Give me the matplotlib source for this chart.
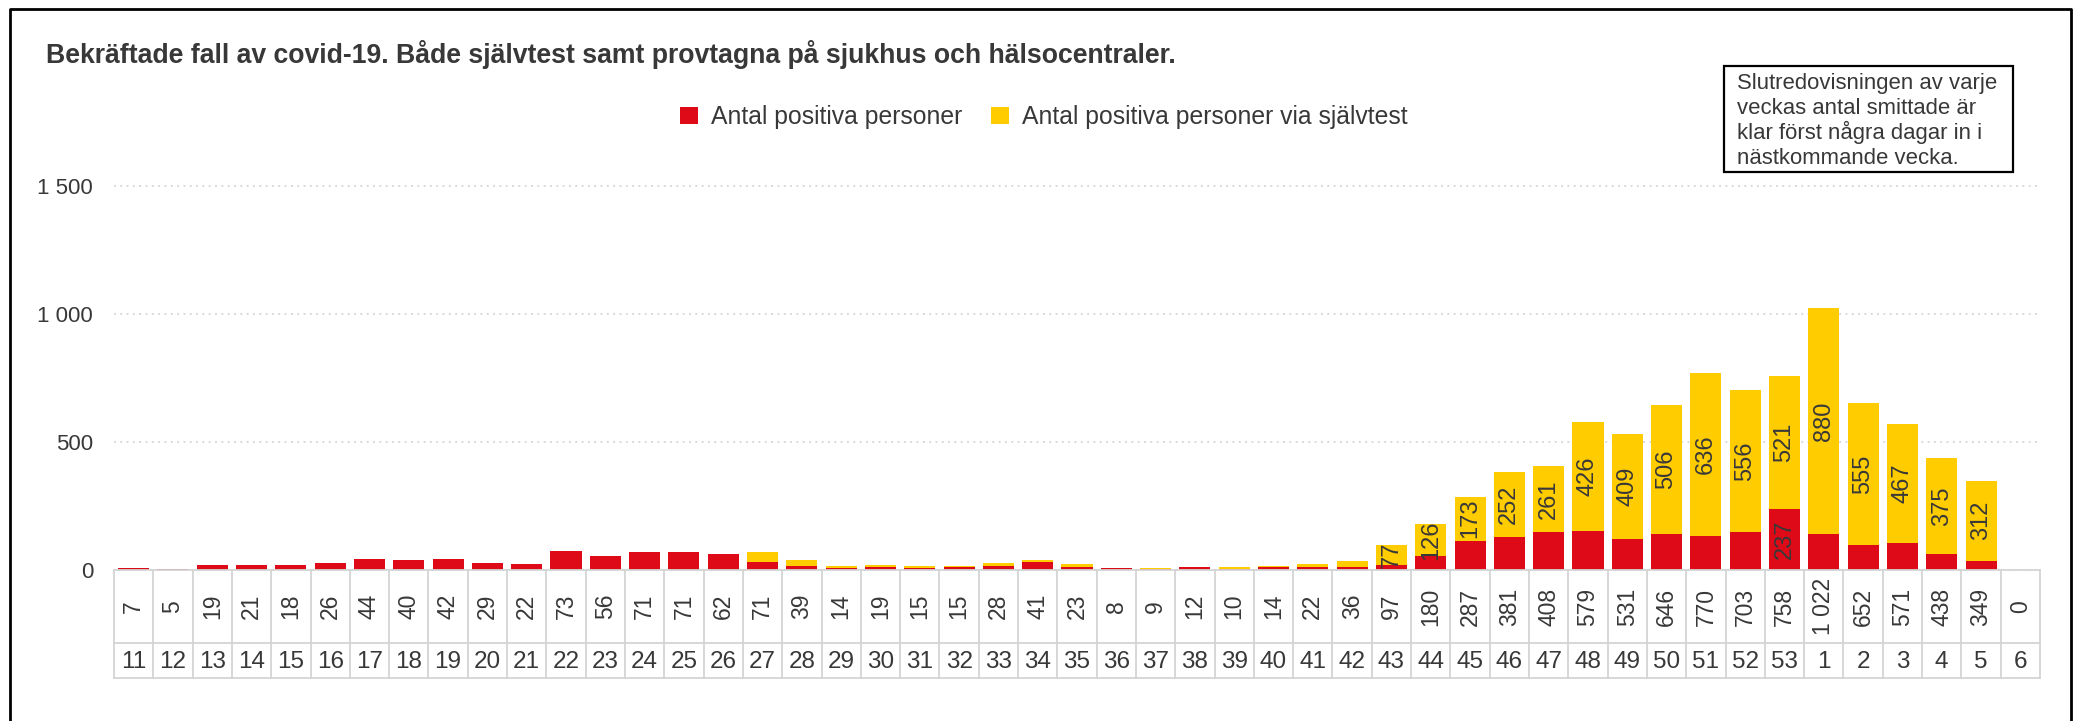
import numpy as np
from matplotlib import pyplot as plt
from matplotlib.patches import Patch, Rectangle
from matplotlib.lines import Line2D

# ---------------- data ----------------
weeks = [11, 12, 13, 14, 15, 16, 17, 18, 19, 20, 21, 22, 23, 24, 25, 26, 27, 28, 29, 30,
         31, 32, 33, 34, 35, 36, 37, 38, 39, 40, 41, 42, 43, 44, 45, 46, 47, 48, 49, 50,
         51, 52, 53, 1, 2, 3, 4, 5, 6]
totals = [7, 5, 19, 21, 18, 26, 44, 40, 42, 29, 22, 73, 56, 71, 71, 62, 71, 39, 14, 19,
          15, 15, 28, 41, 23, 8, 9, 12, 10, 14, 22, 36, 97, 180, 287, 381, 408, 579, 531, 646,
          770, 703, 758, 1022, 652, 571, 438, 349, 0]
selftest = [0, 0, 0, 0, 0, 0, 0, 0, 0, 0, 0, 0, 0, 0, 0, 0, 41, 24, 6, 9,
            7, 3, 14, 11, 11, 0, 5, 1, 5, 4, 12, 24, 77, 126, 173, 252, 261, 426, 409, 506,
            636, 556, 521, 880, 555, 467, 375, 312, 0]
positive = [t - s for t, s in zip(totals, selftest)]

yticks = [0, 500, 1000, 1500]
ytick_labels = ["0", "500", "1 000", "1 500"]

title = "Bekräftade fall av covid-19. Både självtest samt provtagna på sjukhus och hälsocentraler."
legend_labels = ["Antal positiva personer", "Antal positiva personer via självtest"]
note = ("Slutredovisningen av varje\nveckas antal smittade är\n"
        "klar först några dagar in i\nnästkommande vecka.")

RED = "#DF0A17"
YELLOW = "#FFCC00"
TXT = "#383838"
GRID = "#d4d4d4"

plt.rcParams['font.family'] = ['Liberation Sans', 'DejaVu Sans']

W, H = 2079, 721
fig = plt.figure(figsize=(W / 100, H / 100), dpi=100)


def fx(px):
    return px / W


def fy(py):
    # pixel row measured from top -> figure fraction
    return 1 - py / H


# plot area in pixels
left_px, right_px = 114, 2040
zero_px, top_px = 570, 150
px_per_unit = 128 / 500
ymax = (zero_px - top_px) / px_per_unit

ax = fig.add_axes([fx(left_px), fy(zero_px), fx(right_px - left_px), (zero_px - top_px) / H])
x = np.arange(len(weeks))
ax.bar(x, positive, width=0.79, color=RED, zorder=3)
ax.bar(x, selftest, width=0.79, bottom=positive, color=YELLOW, zorder=3)

# labels inside the bar segments
for i in range(len(weeks)):
    if selftest[i] >= 50:
        ax.text(x[i], positive[i] + selftest[i] / 2, f"{selftest[i]}", rotation=90,
                ha='center', va='center', fontsize=17, color=TXT, zorder=4)
    if positive[i] >= 200:
        ax.text(x[i], positive[i] / 2, f"{positive[i]}", rotation=90,
                ha='center', va='center', fontsize=17, color=TXT, zorder=4)

ax.set_xlim(-0.5, len(weeks) - 0.5)
ax.set_ylim(0, ymax)
ax.set_xticks([])
ax.set_yticks(yticks)
ax.set_yticklabels(ytick_labels, fontsize=16, color=TXT)
ax.tick_params(axis='y', length=0, pad=15)
ax.grid(axis='y', color=GRID, linestyle=(0, (1, 2.5)), linewidth=1.3, zorder=0)
for s in ax.spines.values():
    s.set_visible(False)

# ---------------- table under the bars ----------------
row1, row2 = 73, 108
tab = fig.add_axes([fx(left_px), fy(zero_px + row2), fx(right_px - left_px), row2 / H])
tab.set_xlim(-0.5, len(weeks) - 0.5)
tab.set_ylim(row2, 0)
tab.axis('off')
for xv in np.arange(len(weeks) + 1) - 0.5:
    tab.plot([xv, xv], [0, row2], color=GRID, lw=1.3, clip_on=False)
for yv in [0, row1, row2]:
    tab.plot([-0.5, len(weeks) - 0.5], [yv, yv], color=GRID, lw=1.3, clip_on=False)
for i, (t, w) in enumerate(zip(totals, weeks)):
    tab.text(i, row1 / 2, f"{t:,}".replace(",", " "), rotation=90, ha='center', va='center',
             fontsize=16.5, color=TXT)
    tab.text(i, (row1 + row2) / 2 + 1, str(w), ha='center', va='center', fontsize=17.5, color=TXT)

# ---------------- title, legend, note ----------------
fig.text(fx(46), fy(63), title, fontsize=19.2, fontweight='bold', color=TXT,
         ha='left', va='baseline')

handles = [Patch(facecolor=RED), Patch(facecolor=YELLOW)]
fig.legend(handles, legend_labels, loc='center left', bbox_to_anchor=(fx(680), fy(117)),
           ncol=2, frameon=False, fontsize=17.8, handlelength=0.72, handleheight=0.72,
           handletextpad=0.55, columnspacing=1.15, borderpad=0, borderaxespad=0,
           labelcolor=TXT)

fig.add_artist(Rectangle((fx(1724), fy(172)), fx(2013 - 1724), (172 - 66) / H,
                         transform=fig.transFigure, fill=False, edgecolor='black', lw=1.6))
for k, line in enumerate(note.split("\n")):
    fig.text(fx(1737), fy(89 + k * 25), line, fontsize=15.9, color=TXT,
             ha='left', va='baseline')

# outer frame (left, top, right edges of the screenshot)
fig.add_artist(Line2D([fx(10), fx(10), fx(2071), fx(2071)], [0, fy(9), fy(9), 0],
                      transform=fig.transFigure, color='black', lw=2))

fig.savefig("out.png", dpi=100)
